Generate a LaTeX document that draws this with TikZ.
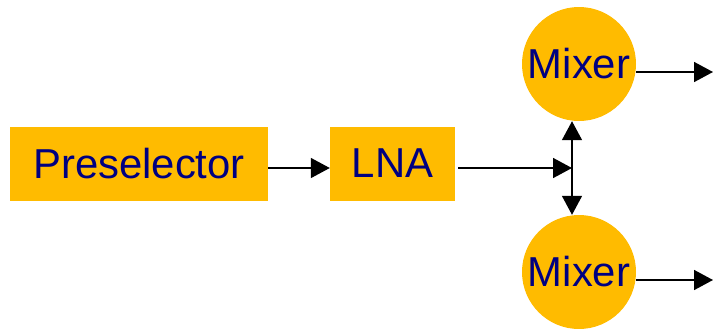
\documentclass[tikz,border=0pt]{standalone}
\usepackage{fontspec}
\setmainfont{Liberation Sans}
\usetikzlibrary{arrows.meta,calc}
\definecolor{boxfill}{HTML}{FFBB00}
\definecolor{navytext}{HTML}{000080}
\begin{document}
\begin{tikzpicture}[x=1bp,y=-1bp,
  blk/.style={fill=boxfill,draw=none,inner sep=0pt,text=navytext,font=\fontsize{42}{48}\selectfont},
  rblk/.style={blk,rectangle},
  cblk/.style={blk,circle,minimum size=114bp},
  arr/.style={line width=1.6bp,-{Triangle[length=19bp,width=20bp]}},
  darr/.style={line width=1.6bp,{Triangle[length=19bp,width=20bp]}-{Triangle[length=19bp,width=20bp]}}]
\useasboundingbox (0,0) rectangle (713,328);
\node[rblk,minimum width=258bp,minimum height=74bp] (pre) at (139,163.5) {Preselector};
\node[rblk,minimum width=125bp,minimum height=74bp] (lna) at (392.5,163.5) {LNA};
\node[cblk] (mix1) at (579,64) {Mixer};
\node[cblk] (mix2) at (579,272) {Mixer};
\coordinate (junc) at (572,168);
\coordinate (out1) at (713,72);
\coordinate (out2) at (713,280);
\draw[arr] ([yshift=-4.5bp]pre.east) -- ([yshift=-4.5bp]lna.west);
\draw[line width=1.6bp,-{Triangle[length=19bp,width=20bp]}] ([xshift=3bp,yshift=-4.5bp]lna.east) -- (junc);
\draw[darr] (junc |- mix1.south) -- (junc |- mix2.north);
\draw[arr] (mix1.east |- out1) -- (out1);
\draw[arr] (mix2.east |- out2) -- (out2);
\end{tikzpicture}
\end{document}
